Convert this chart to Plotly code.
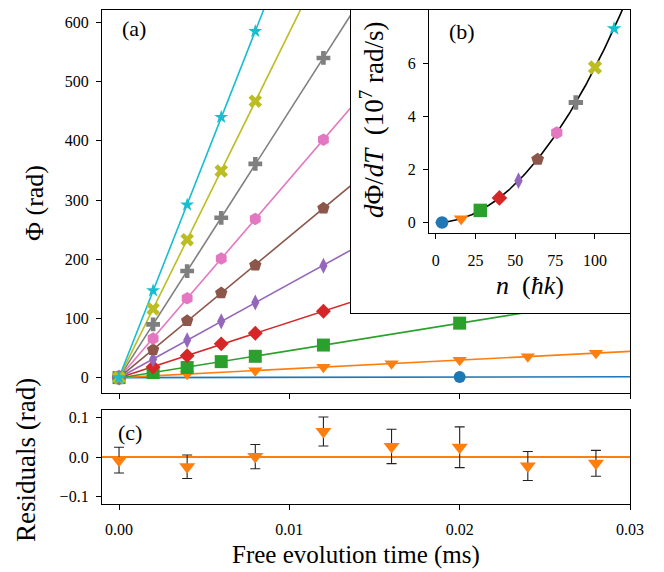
import numpy as np
import plotly.graph_objects as go

# ---------------- data ----------------
colors = ["#1f77b4", "#ff7f0e", "#2ca02c", "#d62728", "#9467bd",
          "#8c564b", "#e377c2", "#7f7f7f", "#bcbd22", "#17becf"]
symbols = ["circle", "triangle-down", "square", "diamond", "diamond-tall",
           "pentagon", "hexagon", "cross", "x", "star"]
marker_sizes = [12, 12.5, 13, 11.5, 11.5, 13, 12.5, 11.5, 12, 10.5]
n_values = [4, 16, 28, 40, 52, 64, 76, 88, 100, 112]

t_blue = [0.0, 0.02]
phi_blue = [0.0, 1.0]
t_orange = [0.0, 0.004, 0.008, 0.012, 0.016, 0.020, 0.024, 0.028]
phi_orange = [0.0, 5.9, 11.8, 17.8, 23.7, 29.6, 35.5, 41.4]
t_green = [0.0, 0.002, 0.004, 0.006, 0.008, 0.012, 0.020]
phi_green = [0.0, 8.5, 17, 27, 36, 55, 92]
t_red = [0.0, 0.002, 0.004, 0.006, 0.008, 0.012, 0.020]
phi_red = [0.0, 18, 37, 57, 75, 112, 187]
t_purple = [0.0, 0.002, 0.004, 0.006, 0.008, 0.012, 0.020]
phi_purple = [0.0, 31, 63, 95, 127, 189, 317]
t_brown = [0.0, 0.002, 0.004, 0.006, 0.008, 0.012, 0.020]
phi_brown = [0.0, 47, 96, 143, 190, 286, 477]
t_pink = [0.0, 0.002, 0.004, 0.006, 0.008, 0.012]
phi_pink = [0.0, 66, 134, 201, 268, 402]
t_gray = [0.0, 0.002, 0.004, 0.006, 0.008, 0.012]
phi_gray = [0.0, 90, 180, 270, 361, 540]
t_olive = [0.0, 0.002, 0.004, 0.006, 0.008]
phi_olive = [0.0, 116, 233, 349, 467]
t_cyan = [0.0, 0.002, 0.004, 0.006, 0.008]
phi_cyan = [0.0, 147, 292, 440, 585]

series_t = [t_blue, t_orange, t_green, t_red, t_purple,
            t_brown, t_pink, t_gray, t_olive, t_cyan]
series_phi = [phi_blue, phi_orange, phi_green, phi_red, phi_purple,
              phi_brown, phi_pink, phi_gray, phi_olive, phi_cyan]

# inset: dPhi/dT in 1e7 rad/s
dphi_dT = [0.005, 0.15, 0.46, 0.93, 1.58, 2.38, 3.38, 4.52, 5.84, 7.30]

# residuals of orange series
res_t = t_orange
residuals = [-0.008, -0.025, 0.001, 0.065, 0.027, 0.025, -0.023, -0.016]
res_err = [0.033, 0.030, 0.031, 0.037, 0.044, 0.052, 0.037, 0.033]

x_ticks = [0.0, 0.01, 0.02, 0.03]
x_ticklabels = ["0.00", "0.01", "0.02", "0.03"]

# ---------------- figure ----------------
OFF = 8  # page body margin
W, H = 656, 564
# screen-pixel positions of the plot frame
S_LEFT, S_RIGHT, S_TOP, S_BOT = 102, 630, 10, 504
ML = S_LEFT - OFF
MT = S_TOP - OFF
MR = W - (S_RIGHT - OFF)
MB = H - (S_BOT - OFF)
PW, PH = W - ML - MR, H - MT - MB


def px_x(px):
    return (px - S_LEFT) / PW


def px_y(py):
    return (S_BOT - py) / PH


FONT = "Liberation Serif, Times New Roman, DejaVu Serif, serif"
fig = go.Figure()

# main panel (xy)
t_line = np.linspace(0, 0.03, 50)
for i in range(10):
    t = np.array(series_t[i])
    p = np.array(series_phi[i])
    m, b = np.polyfit(t, p, 1)
    fig.add_trace(go.Scatter(x=t_line, y=m * t_line + b, mode="lines",
                             line=dict(color=colors[i], width=1.6),
                             xaxis="x", yaxis="y", showlegend=False))
for i in range(10):
    fig.add_trace(go.Scatter(x=series_t[i], y=series_phi[i], mode="markers",
                             marker=dict(symbol=symbols[i], color=colors[i],
                                         size=marker_sizes[i], line=dict(width=0)),
                             xaxis="x", yaxis="y", showlegend=False))

# residual panel (x2y2)
fig.add_trace(go.Scatter(x=[-0.001, 0.03], y=[0, 0], mode="lines",
                         line=dict(color=colors[1], width=2),
                         xaxis="x2", yaxis="y2", showlegend=False))
fig.add_trace(go.Scatter(x=res_t, y=residuals, mode="markers",
                         marker=dict(symbol="triangle-down", color=colors[1], size=14,
                                     line=dict(width=0)),
                         error_y=dict(type="data", array=res_err, visible=True,
                                      color="#222222", thickness=1.1, width=5),
                         xaxis="x2", yaxis="y2", showlegend=False))

# semi-transparent inset box (x3y3)
fig.add_trace(go.Scatter(x=[0, 1, 1, 0, 0], y=[0, 0, 1, 1, 0], mode="lines",
                         fill="toself", fillcolor="rgba(255,255,255,0.8)",
                         line=dict(width=0), hoverinfo="skip",
                         xaxis="x3", yaxis="y3", showlegend=False))

# inset (x4y4)
nn = np.array(n_values, dtype=float)
yy = np.array(dphi_dT)
a = np.sum(yy * nn ** 2) / np.sum(nn ** 4)
n_line = np.linspace(0, 122, 200)
fig.add_trace(go.Scatter(x=n_line, y=a * n_line ** 2, mode="lines",
                         line=dict(color="black", width=1.6),
                         xaxis="x4", yaxis="y4", showlegend=False))
for i in range(10):
    fig.add_trace(go.Scatter(x=[n_values[i]], y=[dphi_dT[i]], mode="markers",
                             marker=dict(symbol=symbols[i], color=colors[i],
                                         size=marker_sizes[i] + 0.5, line=dict(width=0)),
                             xaxis="x4", yaxis="y4", showlegend=False))

tickfont = dict(family=FONT, size=16, color="black")
axis_common = dict(showgrid=False, zeroline=False, showline=True, mirror=True,
                   linecolor="black", linewidth=1.3, ticks="outside",
                   ticklen=5, tickwidth=1.1, tickcolor="black", tickfont=tickfont)

main_top = 10
main_bot = 393
res_top = 410
res_bot = 504

fig.update_layout(
    width=W, height=H,
    margin=dict(l=ML, r=MR, t=MT, b=MB),
    paper_bgcolor="white", plot_bgcolor="white",
    showlegend=False,
    font=dict(family=FONT, color="black"),
    xaxis=dict(domain=[0, 1], range=[-0.001, 0.03], anchor="y",
               tickvals=x_ticks, showticklabels=False, **axis_common),
    yaxis=dict(domain=[px_y(main_bot), px_y(main_top)], range=[-26, 621],
               anchor="x", tickvals=[0, 100, 200, 300, 400, 500, 600],
               ticklabelstandoff=4, **axis_common),
    xaxis2=dict(domain=[0, 1], range=[-0.001, 0.03], anchor="y2",
                tickvals=x_ticks, ticktext=x_ticklabels, ticklabelstandoff=6,
                **axis_common),
    yaxis2=dict(domain=[px_y(res_bot), px_y(res_top)], range=[-0.12, 0.12],
                anchor="x2", tickvals=[-0.1, 0.0, 0.1], tickformat=".1f",
                ticklabelstandoff=4, **axis_common),
    xaxis3=dict(domain=[px_x(351), 1], range=[0, 1], anchor="y3", showgrid=False,
                zeroline=False, showline=True, mirror=True, linecolor="black",
                linewidth=1.3, ticks="", showticklabels=False, fixedrange=True),
    yaxis3=dict(domain=[px_y(313), 1], range=[0, 1], anchor="x3", showgrid=False,
                zeroline=False, showline=True, mirror=True, linecolor="black",
                linewidth=1.3, ticks="", showticklabels=False, fixedrange=True),
    xaxis4=dict(domain=[px_x(429), 1], range=[-4.2, 122], anchor="y4",
                tickvals=[0, 25, 50, 75, 100], ticklabelstandoff=8, **axis_common),
    yaxis4=dict(domain=[px_y(233), 1], range=[-0.39, 8.0], anchor="x4",
                tickvals=[0, 2, 4, 6], ticklabelstandoff=4, **axis_common),
)

annotations = [
    dict(text="(a)", x=px_x(134), y=px_y(28), font=dict(size=22)),
    dict(text="(b)", x=px_x(462), y=px_y(31), font=dict(size=22)),
    dict(text="(c)", x=px_x(130), y=px_y(432), font=dict(size=22)),
    dict(text="Φ (rad)", x=px_x(35), y=px_y(203), textangle=-90, font=dict(size=26)),
    dict(text="Residuals (rad)", x=px_x(26), y=px_y(460), textangle=-90, font=dict(size=27)),
    dict(text="Free evolution time (ms)", x=px_x(356), y=px_y(555), font=dict(size=25)),
    dict(text="<i>d</i>Φ/<i>dT</i>&nbsp;&nbsp;(10<sup>7</sup>&nbsp;rad/s)",
         x=px_x(372), y=px_y(120), textangle=-90, font=dict(size=27)),
    dict(text="<i>n</i>&nbsp;&nbsp;(<i>ħk</i>)", x=px_x(530), y=px_y(285),
         font=dict(size=26)),
]
for an in annotations:
    an.update(xref="paper", yref="paper", showarrow=False,
              xanchor="center", yanchor="middle")
    an["font"].update(family=FONT, color="black")
fig.update_layout(annotations=annotations)

fig.write_html("out.html")
